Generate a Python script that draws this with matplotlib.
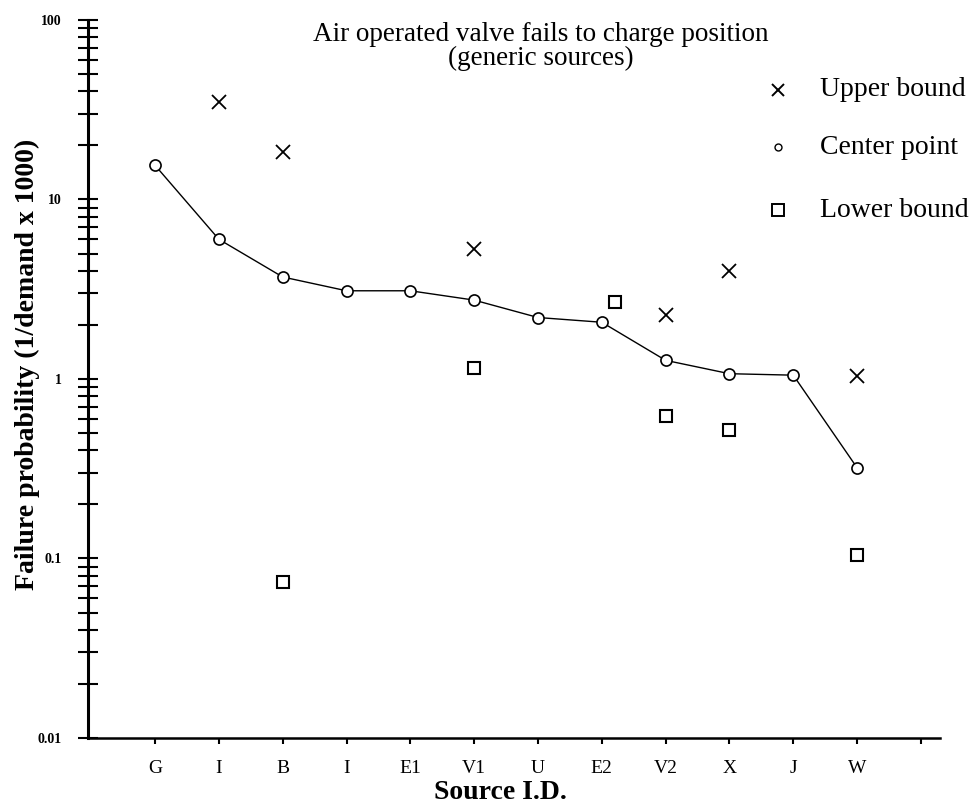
import matplotlib
matplotlib.use("Agg")
import matplotlib.pyplot as plt
from matplotlib.ticker import LogLocator, NullFormatter, FixedLocator, FixedFormatter

# data
sources = ["G", "I", "B", "I", "E1", "V1", "U", "E2", "V2", "X", "J", "W"]
center = [15.5, 6.0, 3.7, 3.1, 3.1, 2.75, 2.2, 2.07, 1.27, 1.07, 1.05, 0.32]

upper_pos = [2, 3, 6, 9, 10, 12]
upper_val = [35, 18.5, 5.3, 2.27, 4.0, 1.04]

lower_pos = [3, 6, 8.2, 9, 10, 12]
lower_val = [0.074, 1.15, 2.7, 0.62, 0.52, 0.104]

plt.rcParams['font.family'] = ['Liberation Serif', 'DejaVu Serif']

fig = plt.figure(figsize=(9.76, 8.09), dpi=100)
ax = fig.add_axes([0.0902, 0.0878, 0.873, 0.8875])

x = list(range(1, len(sources) + 1))
ax.plot(x, center, color='black', linewidth=1.0, zorder=2)
ax.plot(x, center, linestyle='none', marker='o', markersize=8,
        markerfacecolor='white', markeredgecolor='black', markeredgewidth=1.2, zorder=3)
ax.plot(upper_pos, upper_val, linestyle='none', marker='x', markersize=10,
        color='black', markeredgewidth=1.3)
ax.plot(lower_pos, lower_val, linestyle='none', marker='s', markersize=9,
        markerfacecolor='none', markeredgecolor='black', markeredgewidth=1.5)

ax.set_yscale('log')
ax.set_ylim(0.01, 100)
ax.set_xlim(-0.05, 13.3)

ax.spines['top'].set_visible(False)
ax.spines['right'].set_visible(False)
ax.spines['left'].set_linewidth(2.2)
ax.spines['bottom'].set_linewidth(1.8)

ax.yaxis.set_major_locator(FixedLocator([0.01, 0.1, 1, 10, 100]))
ax.yaxis.set_major_formatter(FixedFormatter(["0.01", "0.1", "1", "10", "100"]))
ax.yaxis.set_minor_locator(LogLocator(base=10, subs=range(2, 10)))
ax.yaxis.set_minor_formatter(NullFormatter())
ax.tick_params(axis='y', which='both', direction='inout', length=14, width=1.5,
               labelsize=10, pad=12)

ax.xaxis.set_major_locator(FixedLocator(range(1, 14)))
ax.set_xticklabels(sources + [""])
ax.tick_params(axis='x', which='major', direction='out', length=4, width=1.5,
               labelsize=14, pad=12)

for lab in ax.get_yticklabels():
    lab.set_fontweight('bold')

# axis titles
fig.text(0.028, 0.549, "Failure probability (1/demand x 1000)", rotation=90,
         ha='center', va='center', fontsize=20, fontweight='bold')
fig.text(0.513, 0.021, "Source I.D.", ha='center', va='center',
         fontsize=20, fontweight='bold')

fig.text(0.554, 0.957, "Air operated valve fails to charge position",
         ha='center', va='center', fontsize=19.5)
fig.text(0.554, 0.928, "(generic sources)", ha='center', va='center', fontsize=19.5)

# legend drawn as a simple key in the upper right
key_y = [0.889, 0.818, 0.74]
key_lab = ["Upper bound", "Center point", "Lower bound"]
key_mk = ['x', 'o', 's']
for ky, kl, km in zip(key_y, key_lab, key_mk):
    if km == 'o':
        fig.lines.append(plt.Line2D([0.797], [ky], marker=km, markersize=5,
                                    markerfacecolor='white', markeredgecolor='black',
                                    transform=fig.transFigure))
    else:
        fig.lines.append(plt.Line2D([0.797], [ky], marker=km, markersize=9,
                                    markerfacecolor='none', markeredgecolor='black',
                                    markeredgewidth=1.4, transform=fig.transFigure))
    fig.text(0.84, ky, kl, ha='left', va='center', fontsize=20)

fig.savefig("out.png", dpi=100)
